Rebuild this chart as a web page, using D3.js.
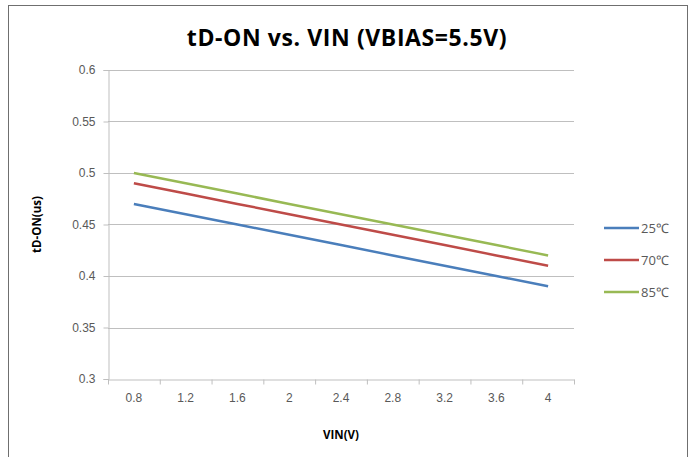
<!DOCTYPE html>
<html>
<head>
<meta charset="utf-8">
<script src="https://cdn.jsdelivr.net/npm/d3@7"></script>
<style>
  body { margin: 0; background: #fff; }
  svg { display: block; font-family: "Open Sans", "Liberation Sans", sans-serif; }
</style>
</head>
<body>
<div class="chart"></div>
<script>
const vin = ["0.8", "1.2", "1.6", "2", "2.4", "2.8", "3.2", "3.6", "4"];
const t25 = [0.47, 0.46, 0.45, 0.44, 0.43, 0.42, 0.41, 0.40, 0.39];
const t70 = [0.49, 0.48, 0.47, 0.46, 0.45, 0.44, 0.43, 0.42, 0.41];
const t85 = [0.50, 0.49, 0.48, 0.47, 0.46, 0.45, 0.44, 0.43, 0.42];
const seriesNames = ["25\u2103", "70\u2103", "85\u2103"];
const yTicks = [0.3, 0.35, 0.4, 0.45, 0.5, 0.55, 0.6];

const colors = ["#4a7ebb", "#be4b48", "#98b954"];
const series = [t25, t70, t85].map((values, i) => ({ name: seriesNames[i], values, color: colors[i] }));

const W = 698, H = 457;
const plot = { left: 108, right: 574, top: 70, bottom: 379 };

const svg = d3.select("div.chart").append("svg")
  .attr("width", W).attr("height", H);

// chart frame
svg.append("rect")
  .attr("x", 8.5).attr("y", 5.5)
  .attr("width", 679).attr("height", 470)
  .attr("fill", "none").attr("stroke", "#6f6f6f").attr("stroke-width", 1);

const x = d3.scaleBand().domain(vin).range([plot.left, plot.right]).padding(0);
const y = d3.scaleLinear().domain([0.3, 0.6]).range([plot.bottom, plot.top]);

// gridlines
svg.append("g")
  .selectAll("line")
  .data(yTicks.slice(1))
  .join("line")
  .attr("x1", plot.left).attr("x2", plot.right)
  .attr("y1", d => Math.round(y(d)) + 0.5).attr("y2", d => Math.round(y(d)) + 0.5)
  .attr("stroke", "#bfbfbf");

// y axis
const yAxis = svg.append("g")
  .attr("transform", `translate(${plot.left + 0.5},0)`)
  .call(d3.axisLeft(y).tickValues(yTicks).tickSize(5).tickPadding(8)
    .tickFormat(d => String(+d.toFixed(2))));
yAxis.select(".domain").attr("stroke", "#bfbfbf");
yAxis.selectAll(".tick line").attr("stroke", "#bfbfbf");
yAxis.selectAll("text").attr("fill", "#595959").style("font-size", "12px");

// x axis, ticks sit between categories
const xAxis = svg.append("g")
  .attr("transform", `translate(0,${plot.bottom + 0.5})`)
  .call(d3.axisBottom(x).tickSize(0).tickPadding(14));
xAxis.select(".domain").attr("stroke", "#bfbfbf");
xAxis.selectAll("text").attr("fill", "#595959").style("font-size", "12px");
xAxis.selectAll("line.between")
  .data(vin.concat(["end"]))
  .join("line")
  .attr("class", "between")
  .attr("x1", (d, i) => plot.left + i * x.bandwidth() + 0.5)
  .attr("x2", (d, i) => plot.left + i * x.bandwidth() + 0.5)
  .attr("y1", 0).attr("y2", 5)
  .attr("stroke", "#bfbfbf");

// lines
const line = d3.line()
  .x((d, i) => x(vin[i]) + x.bandwidth() / 2)
  .y(d => y(d));

svg.append("g")
  .selectAll("path")
  .data(series)
  .join("path")
  .attr("d", d => line(d.values))
  .attr("fill", "none")
  .attr("stroke", d => d.color)
  .attr("stroke-width", 2.5);

// title
svg.append("text")
  .attr("x", 347).attr("y", 46)
  .attr("text-anchor", "middle")
  .style("font-size", "23px").style("font-weight", "bold")
  .style("letter-spacing", "0.6px")
  .attr("fill", "#000")
  .text("tD-ON vs. VIN (VBIAS=5.5V)");

// axis titles
svg.append("text")
  .attr("transform", `translate(41,${(plot.top + plot.bottom) / 2}) rotate(-90)`)
  .attr("text-anchor", "middle")
  .style("font-size", "11.5px").style("font-weight", "bold")
  .text("tD-ON(us)");

svg.append("text")
  .attr("x", (plot.left + plot.right) / 2).attr("y", 439)
  .attr("text-anchor", "middle")
  .style("font-size", "11.5px").style("font-weight", "bold")
  .text("VIN(V)");

// legend
const legend = svg.append("g")
  .selectAll("g")
  .data(series)
  .join("g")
  .attr("transform", (d, i) => `translate(604,${228 + i * 32})`);
legend.append("line")
  .attr("x1", 0).attr("x2", 35)
  .attr("stroke", d => d.color).attr("stroke-width", 2.5);
legend.append("text")
  .attr("x", 37).attr("dy", "0.35em")
  .attr("fill", "#595959")
  .style("font-size", "13px")
  .text(d => d.name);
</script>
</body>
</html>
